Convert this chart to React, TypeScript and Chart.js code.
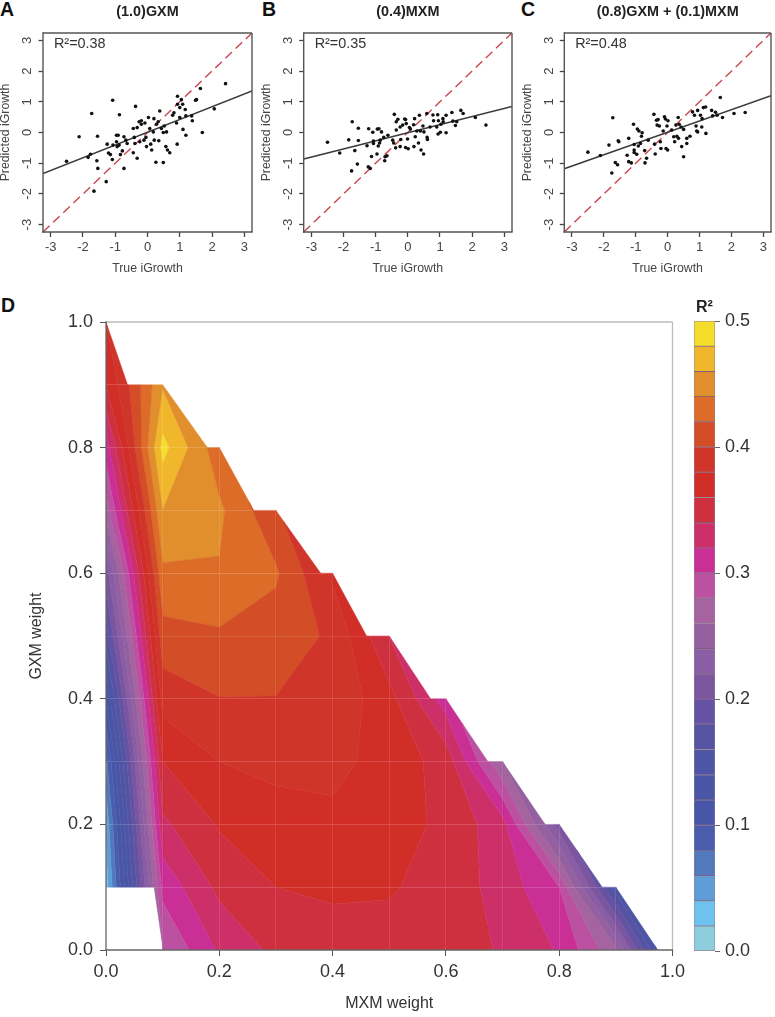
import React, { useEffect, useRef } from "react";
import { Chart, registerables } from "chart.js";

Chart.register(...registerables);

// ---------- Panels A, B, C: [true iGrowth, predicted iGrowth] ----------
const pointsA = [[-2.51,-0.94],[-2.12,-0.14],[-1.84,-0.81],[-1.77,-0.71],[-1.73,0.62],[-1.66,-1.91],[-1.57,-0.92],[-1.55,-0.12],[-1.54,-1.17],[-1.28,-1.6],[-1.25,-0.38],[-1.21,-0.67],[-1.15,-0.72],[-1.09,-0.88],[-1.08,1.05],[-1.07,-0.41],[-0.96,-0.3],[-0.96,-0.09],[-0.91,-0.09],[-0.94,-0.46],[-0.88,-0.41],[-0.87,0.58],[-0.84,-0.72],[-0.78,-0.6],[-0.73,-1.17],[-0.73,-0.14],[-0.67,-0.25],[-0.63,-0.36],[-0.44,0.13],[-0.44,-0.66],[-0.41,-0.16],[-0.39,-0.36],[-0.37,0.85],[-0.32,0.16],[-0.32,-0.84],[-0.26,0.35],[-0.24,-0.3],[-0.19,0.38],[-0.19,0.27],[-0.11,-0.25],[-0.08,0.31],[-0.05,-0.16],[-0.03,-0.46],[0.03,0.49],[0.07,0.13],[0.1,-0.38],[0.13,-0.57],[0.18,0.02],[0.2,0.45],[0.21,-0.25],[0.26,-0.97],[0.28,0.27],[0.33,0.35],[0.35,-0.27],[0.38,0.7],[0.43,0.13],[0.49,0],[0.49,-0.98],[0.52,0.21],[0.57,-0.46],[0.59,0.02],[0.62,-0.57],[0.69,-0.66],[0.78,0.56],[0.82,0.64],[0.9,0.31],[0.92,-0.38],[0.93,0.92],[0.93,1.18],[1.0,0.81],[1.0,0.49],[1.05,1.07],[1.09,0.92],[1.1,0.1],[1.17,0.75],[1.19,-0.09],[1.19,0.54],[1.37,0.54],[1.39,0.38],[1.49,1.05],[1.52,1.07],[1.64,1.43],[1.7,0],[2.07,0.77],[2.42,1.59]];
const pointsB = [[-2.5,-0.32],[-2.12,-0.67],[-1.84,-0.24],[-1.75,-1.25],[-1.73,0.35],[-1.65,-0.59],[-1.57,-1.03],[-1.54,0.14],[-1.54,-0.26],[-1.27,-0.43],[-1.23,-1.12],[-1.22,0.12],[-1.17,-1.17],[-1.13,-0.78],[-1.09,0.01],[-1.07,-0.28],[-1.07,-0.36],[-0.96,-0.7],[-0.95,0.11],[-0.9,0.12],[-0.92,-0.44],[-0.88,-0.34],[-0.86,-0.25],[-0.82,0.02],[-0.75,-0.16],[-0.72,-0.92],[-0.71,-0.79],[-0.65,-0.76],[-0.62,-0.09],[-0.47,-0.25],[-0.44,-0.34],[-0.42,0.59],[-0.38,-0.5],[-0.36,0.35],[-0.36,0.08],[-0.31,0.43],[-0.24,0.18],[-0.22,-0.23],[-0.24,-0.46],[-0.16,0.24],[-0.1,0.44],[-0.07,0.42],[-0.07,-0.49],[-0.05,0.29],[-0.01,-0.21],[0.01,-0.53],[0.05,0.16],[0.08,0.11],[0.18,0.25],[0.19,-0.46],[0.21,0.45],[0.23,-0.14],[0.28,0.05],[0.33,-0.34],[0.36,0.56],[0.39,0.05],[0.41,-0.57],[0.47,0.21],[0.49,-0.7],[0.5,0.02],[0.59,0.62],[0.6,-0.16],[0.61,-0.23],[0.69,0.18],[0.78,0.57],[0.8,0.38],[0.9,0.18],[0.93,0.58],[0.94,-0.05],[0.95,0.38],[1.01,0.01],[1.03,0.27],[1.09,0.45],[1.1,0.35],[1.19,-0.01],[1.19,0.56],[1.37,0.65],[1.4,0.37],[1.48,0.23],[1.52,0.35],[1.65,0.72],[1.72,0.62],[2.1,0.49],[2.43,0.24]];
const pointsC = [[-2.5,-0.64],[-2.11,-0.75],[-1.84,-0.41],[-1.75,-1.32],[-1.72,0.48],[-1.64,-0.98],[-1.57,-1.05],[-1.55,-0.27],[-1.53,-0.3],[-1.27,-0.74],[-1.22,-0.19],[-1.22,-0.95],[-1.14,-0.99],[-1.07,0.27],[-1.05,-0.39],[-1.05,-0.57],[-1.05,-0.65],[-0.97,-0.71],[-0.95,0.11],[-0.9,0.05],[-0.92,-0.44],[-0.85,-0.36],[-0.82,-0.12],[-0.8,-0.01],[-0.72,-0.59],[-0.71,-0.99],[-0.66,-0.84],[-0.61,-0.25],[-0.43,0.59],[-0.41,-0.38],[-0.39,-0.7],[-0.35,0.4],[-0.33,0.24],[-0.3,0.42],[-0.26,0.21],[-0.23,-0.3],[-0.21,-0.52],[-0.14,0.05],[-0.1,0.51],[-0.07,0.44],[-0.05,-0.52],[-0.02,0.21],[0.01,0.38],[0,-0.57],[0.13,0.08],[0.19,-0.14],[0.22,-0.3],[0.26,0.24],[0.29,-0.12],[0.33,0.49],[0.34,-0.19],[0.36,0.27],[0.42,0.18],[0.44,-0.46],[0.5,0.1],[0.5,-0.79],[0.6,-0.36],[0.6,-0.19],[0.7,-0.12],[0.78,0.67],[0.84,0.56],[0.89,0.21],[0.91,0.05],[0.94,0.72],[0.94,0.02],[1.03,0.56],[1.07,0.18],[1.08,0.45],[1.12,0.81],[1.19,0.83],[1.2,-0.03],[1.38,0.72],[1.41,0.54],[1.5,0.66],[1.55,0.56],[1.65,1.14],[1.72,0.49],[2.08,0.62],[2.43,0.65]];

const AXIS_LIMIT = 3.24;
const fitEndsA = [-1.34, 1.35];
const fitEndsB = [-0.86, 0.85];
const fitEndsC = [-1.18, 1.2];

// ---------- Panel D: R² by MXM weight (columns) and GXM weight (rows) ----------
const r2Gxm00 = [0.265, 0.28, 0.323, 0.345, 0.352, 0.352, 0.35, 0.338, 0.318, 0.265, 0.095];
const r2Gxm01 = [0.03, 0.306, 0.345, 0.36, 0.363, 0.362, 0.352, 0.332, 0.3, 0.15];
const r2Gxm02 = [0.045, 0.336, 0.362, 0.372, 0.375, 0.37, 0.355, 0.328, 0.21];
const r2Gxm03 = [0.075, 0.36, 0.38, 0.385, 0.386, 0.372, 0.352, 0.26];
const r2Gxm04 = [0.12, 0.388, 0.3995, 0.3995, 0.395, 0.367, 0.31];
const r2Gxm05 = [0.17, 0.4125, 0.417, 0.41, 0.397, 0.34];
const r2Gxm06 = [0.21, 0.436, 0.4385, 0.423, 0.376];
const r2Gxm07 = [0.27, 0.46, 0.444, 0.403];
const r2Gxm08 = [0.31, 0.487, 0.427];
const r2Gxm09 = [0.36, 0.458];
const r2Gxm10 = [0.38];
const r2Rows = [r2Gxm00, r2Gxm01, r2Gxm02, r2Gxm03, r2Gxm04, r2Gxm05, r2Gxm06, r2Gxm07, r2Gxm08, r2Gxm09, r2Gxm10];
// How far each stair tread of the outer edge reaches along MXM, from its column
const stairRun = [0.038, 0.079, 0.061, 0.079, 0.06, 0.073, 0.074, 0.075, 0.076, 0.074];
// The sliver under the white notch: [mxm, gxm] at the notch's right end, and its foot
const notchTop = [0.085, 0.1];
const notchFoot = [0.101, 0];

const r2Levels = [0,0.02,0.04,0.06,0.08,0.1,0.12,0.14,0.16,0.18,0.2,0.22,0.24,0.26,0.28,0.3,0.32,0.34,0.36,0.38,0.4,0.42,0.44,0.46,0.48,0.5];
const bandColors = ["#8CCEDB","#6EC2EE","#5F9DD8","#5379BD","#4A5DAC","#4756A6","#4955A5","#4D55A4","#5653A3","#6552A2","#7C559F","#8A5DA5","#94609F","#A5639F","#BC51A1","#C92F95","#CD3068","#CE3040","#D12E28","#D0352A","#D34D27","#DC6C28","#E08F2C","#F0B62C","#F5DE2B"];
const weightTicks = [0, 0.2, 0.4, 0.6, 0.8, 1];

type V = { x: number; y: number; z: number };

function cutBand(poly: V[], level: number, keepAbove: boolean): V[] {
  const out: V[] = [];
  const inside = (v: V) => (keepAbove ? v.z >= level : v.z <= level);
  poly.forEach((a, i) => {
    const b = poly[(i + 1) % poly.length];
    if (inside(a)) out.push(a);
    if (inside(a) !== inside(b)) {
      const t = (level - a.z) / (b.z - a.z);
      out.push({ x: a.x + t * (b.x - a.x), y: a.y + t * (b.y - a.y), z: level });
    }
  });
  return out;
}

function cellShapes(): V[][] {
  const g = (i: number, j: number): V => ({ x: i / 10, y: j / 10, z: r2Rows[j][i] });
  const shapes: V[][] = [];
  for (let j = 0; j < 10; j++) {
    for (let i = 0; i + j < 10; i++) {
      if (i === 0 && j === 0) {
        const t = notchTop[0] * 10;
        shapes.push([
          { x: notchTop[0], y: notchTop[1], z: g(0, 1).z + t * (g(1, 1).z - g(0, 1).z) },
          g(1, 1),
          { x: notchFoot[0], y: notchFoot[1], z: g(1, 0).z },
        ]);
      } else if (i + j + 2 <= 10) {
        shapes.push([g(i, j), g(i + 1, j), g(i + 1, j + 1), g(i, j + 1)]);
      } else {
        const run = stairRun[i];
        const a = g(i, j);
        const b = g(i + 1, j);
        shapes.push([g(i, j + 1), a, { x: a.x + run, y: a.y, z: a.z + (run * 10) * (b.z - a.z) }]);
      }
    }
  }
  return shapes;
}

function contourDatasets() {
  const sets: any[] = [];
  for (const shape of cellShapes()) {
    bandColors.forEach((color, b) => {
      let p = cutBand(shape, r2Levels[b], true);
      if (p.length >= 3) p = cutBand(p, r2Levels[b + 1], false);
      if (p.length < 3) return;
      sets.push({
        data: [...p, p[0]].map((v) => ({ x: v.x, y: v.y })),
        showLine: true,
        fill: "shape",
        backgroundColor: color,
        borderColor: color,
        borderWidth: 0.5,
        pointRadius: 0,
        tension: 0,
      });
    });
  }
  return sets;
}

const FONT = "'Liberation Sans', Arial, sans-serif";

const framePlugin = (edges: { top: string; right: string; bottom: string; left: string }, width: number) => ({
  id: "frame",
  afterDraw(chart: any) {
    const { left, right, top, bottom } = chart.chartArea;
    const ctx = chart.ctx;
    ctx.save();
    ctx.lineWidth = width;
    const seg = (c: string, a: number, b: number, d: number, e: number) => {
      ctx.strokeStyle = c;
      ctx.beginPath();
      ctx.moveTo(a, b);
      ctx.lineTo(d, e);
      ctx.stroke();
    };
    seg(edges.top, left, top, right, top);
    seg(edges.right, right, top, right, bottom);
    seg(edges.bottom, left - width / 2, bottom, right + width / 2, bottom);
    seg(edges.left, left, top - width / 2, left, bottom + width / 2);
    ctx.restore();
  },
});

const noteTextPlugin = (text: string) => ({
  id: "note",
  afterDraw(chart: any) {
    const ctx = chart.ctx;
    ctx.save();
    ctx.font = `14.4px ${FONT}`;
    ctx.fillStyle = "#333";
    ctx.textBaseline = "middle";
    ctx.textAlign = "left";
    ctx.fillText(text, chart.scales.x.getPixelForValue(-2.9), chart.scales.y.getPixelForValue(2.87));
    ctx.restore();
  },
});

function scatterConfig(title: string, note: string, pts: number[][], ends: number[], axisW: number, padRight: number, yTitlePad: number) {
  const limits = { min: -AXIS_LIMIT, max: AXIS_LIMIT };
  const tick = { stepSize: 1, includeBounds: false, color: "#444", font: { family: FONT, size: 13 }, autoSkip: false };
  return {
    type: "scatter",
    data: {
      datasets: [
        { data: pts.map(([x, y]) => ({ x, y })), backgroundColor: "#111", borderColor: "#111", pointRadius: 1.8, pointBorderWidth: 0 },
        { data: [{ x: -AXIS_LIMIT, y: ends[0] }, { x: AXIS_LIMIT, y: ends[1] }], showLine: true, borderColor: "#3a3a3a", borderWidth: 1.5, pointRadius: 0 },
        { data: [{ x: -AXIS_LIMIT, y: -AXIS_LIMIT }, { x: AXIS_LIMIT, y: AXIS_LIMIT }], showLine: true, borderColor: "#CC4650", borderWidth: 1.4, borderDash: [9, 5], pointRadius: 0 },
      ],
    },
    options: {
      responsive: false,
      animation: false,
      layout: { padding: { right: padRight, top: 0, left: 0, bottom: 0 } },
      plugins: {
        legend: { display: false },
        tooltip: { enabled: false },
        title: { display: true, text: title, fullSize: false, color: "#222", font: { family: FONT, size: 14.4, weight: "bold" }, padding: { top: 3.1, bottom: 12.6 } },
      },
      scales: {
        x: {
          type: "linear", ...limits,
          afterFit: (s: any) => { s.height = 58; },
          border: { display: false },
          grid: { drawOnChartArea: false, tickLength: 5, tickColor: "#444", tickWidth: 1.3 },
          ticks: { ...tick, padding: 3, maxRotation: 0 },
          title: { display: true, text: "True iGrowth", color: "#444", font: { family: FONT, size: 12.3 }, padding: { top: 0, bottom: 13.6 } },
        },
        y: {
          type: "linear", ...limits,
          afterFit: (s: any) => { s.width = axisW; },
          border: { display: false },
          grid: { drawOnChartArea: false, tickLength: 4.5, tickColor: "#444", tickWidth: 1.3 },
          ticks: { ...tick, padding: 5, minRotation: 90, maxRotation: 90, crossAlign: "center" },
          title: { display: true, text: "Predicted iGrowth", color: "#444", font: { family: FONT, size: 12.3 }, padding: { top: yTitlePad, bottom: 0 } },
        },
      },
    },
    plugins: [noteTextPlugin(note), framePlugin({ top: "#555", right: "#555", bottom: "#555", left: "#555" }, 1.4)],
  };
}

function contourConfig() {
  const isMajor = (v: number) => weightTicks.some((t) => Math.abs(t - v) < 1e-6);
  const axis = {
    type: "linear",
    min: 0,
    max: 1,
    border: { display: false },
    grid: {
      z: 1,
      color: (c: any) => (c.tick.value === 0 || c.tick.value === 1 ? "rgba(255,255,255,0)" : "rgba(255,255,255,0.1)"),
      lineWidth: 1,
      tickLength: 6,
      tickColor: (c: any) => (isMajor(c.tick.value) ? "#555" : "rgba(0,0,0,0)"),
      tickWidth: 1,
    },
  };
  const label = (v: any) => (isMajor(Number(v)) ? Number(v).toFixed(1) : "");
  const tickFont = { family: FONT, size: 18 };
  return {
    type: "scatter",
    data: { datasets: contourDatasets() },
    options: {
      responsive: false,
      animation: false,
      layout: { padding: { top: 32, right: 17, left: 0, bottom: 0 } },
      plugins: { legend: { display: false }, tooltip: { enabled: false } },
      scales: {
        x: {
          ...axis,
          afterFit: (s: any) => { s.height = 67; },
          ticks: { stepSize: 0.1, autoSkip: false, maxRotation: 0, color: "#333", font: tickFont, padding: 5, callback: label },
          title: { display: true, text: "MXM weight", color: "#333", font: { family: FONT, size: 16 }, padding: { top: 0, bottom: 3.4 } },
        },
        y: {
          ...axis,
          afterFit: (s: any) => { s.width = 106; },
          ticks: { stepSize: 0.1, autoSkip: false, color: "#333", font: tickFont, padding: 7, callback: label },
          title: { display: true, text: "GXM weight", color: "#333", font: { family: FONT, size: 16 }, padding: { top: 27.4, bottom: 0 } },
        },
      },
    },
    plugins: [framePlugin({ top: "#bbb", right: "#bbb", bottom: "#666", left: "#666" }, 1.3)],
  };
}

function colorbarConfig() {
  return {
    type: "bar",
    data: {
      labels: ["R²"],
      datasets: bandColors.map((color, b) => ({
        data: [[r2Levels[b], r2Levels[b + 1]]],
        backgroundColor: color,
        borderColor: "rgba(70,30,70,0.55)",
        borderWidth: 0.8,
        borderSkipped: false,
        grouped: false,
        barPercentage: 1,
        categoryPercentage: 1,
      })),
    },
    options: {
      responsive: false,
      animation: false,
      layout: { padding: { left: 4, top: 0, right: 0, bottom: 0 } },
      plugins: {
        legend: { display: false },
        tooltip: { enabled: false },
        title: { display: true, text: "R²", fullSize: false, color: "#222", font: { family: FONT, size: 16, weight: "bold" }, padding: { top: 8.4, bottom: 3.4 } },
      },
      scales: {
        x: { display: false },
        y: {
          position: "right",
          min: 0,
          max: 0.5,
          afterFit: (s: any) => { s.width = 60; },
          border: { display: false },
          grid: { drawOnChartArea: false, tickLength: 5, tickColor: "#666", tickWidth: 1 },
          ticks: { stepSize: 0.1, includeBounds: false, color: "#333", font: { family: FONT, size: 18 }, padding: 5, callback: (v: any) => Number(v).toFixed(1) },
        },
      },
    },
  };
}

function ChartBox({ make, left, top, width, height }: { make: () => any; left: number; top: number; width: number; height: number }) {
  const ref = useRef<HTMLCanvasElement>(null);
  useEffect(() => {
    const chart = new Chart(ref.current as HTMLCanvasElement, make());
    return () => chart.destroy();
  }, []);
  return <canvas ref={ref} width={width} height={height} style={{ position: "absolute", left, top, width, height }} />;
}

const letterStyle = (left: number, top: number): React.CSSProperties => ({
  position: "absolute", left, top, font: `bold 19.5px ${FONT}`, color: "#111", lineHeight: "18px",
});

export default function App() {
  return (
    <div style={{ position: "absolute", left: 0, top: 0, width: 775, height: 1017, background: "#fff", overflow: "hidden" }}>
      <div style={letterStyle(0, 0)}>A</div>
      <div style={letterStyle(262, 0)}>B</div>
      <div style={letterStyle(521, 0)}>C</div>
      <div style={letterStyle(1, 296)}>D</div>
      <ChartBox left={-2} top={0} width={260} height={290} make={() => scatterConfig("(1.0)GXM", "R²=0.38", pointsA, fitEndsA, 45, 6, 0.2)} />
      <ChartBox left={258} top={0} width={258} height={290} make={() => scatterConfig("(0.4)MXM", "R²=0.35", pointsB, fitEndsB, 45.7, 3, 1.6)} />
      <ChartBox left={517} top={0} width={258} height={290} make={() => scatterConfig("(0.8)GXM + (0.1)MXM", "R²=0.48", pointsC, fitEndsC, 47.3, 1.7, 3.3)} />
      <ChartBox left={0} top={290} width={690} height={727} make={contourConfig} />
      <ChartBox left={690} top={290} width={85} height={677} make={colorbarConfig} />
    </div>
  );
}
